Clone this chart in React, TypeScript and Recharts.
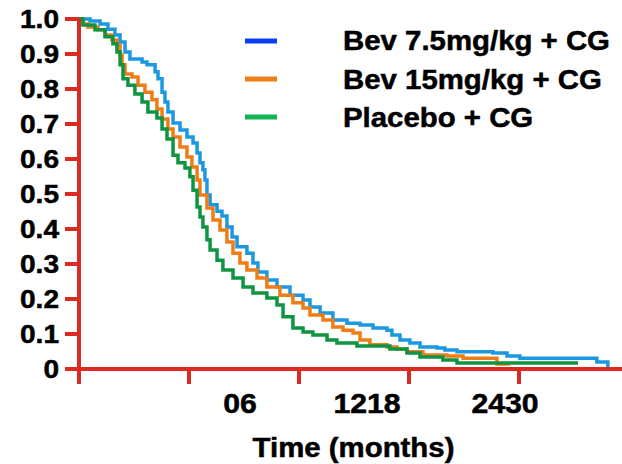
import { LineChart, Line, XAxis, YAxis, Legend, Label } from 'recharts';

// Kaplan-Meier step corners: months, proportion event-free
const bev75Time = [0, 0.6, 1.15, 1.58, 1.96, 2.24, 2.51, 2.78, 3.44, 3.71, 4.15, 4.31, 4.53, 4.69, 4.85, 5.13, 5.51, 5.89, 6.22, 6.44, 6.6, 6.76, 6.87, 6.98, 7.15, 7.53, 7.8, 8.07, 8.35, 8.62, 9.16, 9.49, 9.76, 10.25, 10.8, 11.51, 12.22, 12.6, 13.15, 13.85, 14.62, 15.33, 16.04, 16.8, 17.07, 17.51, 18.05, 18.6, 19.53, 19.96, 20.62, 22.58, 23.35, 24.05, 28.25, 28.85];
const bev75Surv = [1, 0.994, 0.986, 0.971, 0.954, 0.934, 0.906, 0.886, 0.877, 0.869, 0.849, 0.829, 0.791, 0.763, 0.734, 0.703, 0.683, 0.663, 0.646, 0.617, 0.589, 0.569, 0.54, 0.497, 0.469, 0.451, 0.437, 0.406, 0.377, 0.349, 0.331, 0.303, 0.277, 0.254, 0.234, 0.211, 0.197, 0.177, 0.16, 0.14, 0.131, 0.126, 0.117, 0.111, 0.097, 0.083, 0.074, 0.063, 0.06, 0.054, 0.049, 0.046, 0.037, 0.031, 0.02, 0];

const bev15Time = [0, 0.22, 0.49, 1.04, 1.42, 1.8, 2.07, 2.24, 2.35, 2.51, 2.89, 3.22, 3.6, 3.98, 4.25, 4.53, 4.85, 5.13, 5.51, 5.89, 6.16, 6.44, 6.6, 6.98, 7.31, 7.69, 8.07, 8.4, 8.78, 9.16, 9.71, 10.25, 10.96, 11.67, 12.22, 12.6, 13.31, 13.85, 14.4, 14.95, 15.33, 15.87, 16.8, 17.35, 17.89, 18.76, 20.07, 20.95, 22.8, 23.51];
const bev15Surv = [1, 0.986, 0.977, 0.969, 0.954, 0.94, 0.926, 0.897, 0.869, 0.843, 0.834, 0.811, 0.791, 0.769, 0.743, 0.714, 0.686, 0.663, 0.634, 0.606, 0.577, 0.54, 0.497, 0.46, 0.426, 0.397, 0.363, 0.331, 0.303, 0.283, 0.26, 0.234, 0.211, 0.189, 0.174, 0.154, 0.14, 0.12, 0.111, 0.103, 0.083, 0.069, 0.063, 0.057, 0.049, 0.04, 0.037, 0.031, 0.014, 0.014];

const placeboTime = [0, 0.22, 0.87, 1.42, 1.85, 2.07, 2.24, 2.4, 2.67, 3.05, 3.44, 3.76, 4.25, 4.53, 4.8, 5.13, 5.4, 5.78, 6.05, 6.22, 6.44, 6.6, 6.76, 6.98, 7.15, 7.53, 7.85, 8.4, 8.95, 9.49, 10.25, 10.8, 11.13, 11.67, 12.22, 12.76, 13.53, 14.07, 15.16, 16.96, 17.89, 18.6, 19.85, 20.62, 27.22];
const placeboSurv = [1, 0.983, 0.969, 0.949, 0.929, 0.906, 0.869, 0.829, 0.811, 0.786, 0.763, 0.734, 0.717, 0.686, 0.657, 0.611, 0.589, 0.574, 0.549, 0.511, 0.463, 0.434, 0.406, 0.369, 0.34, 0.311, 0.283, 0.26, 0.234, 0.217, 0.203, 0.183, 0.149, 0.117, 0.106, 0.097, 0.083, 0.074, 0.066, 0.057, 0.046, 0.034, 0.026, 0.017, 0.017];

const seriesNames = ['Bev 7.5mg/kg + CG', 'Bev 15mg/kg + CG', 'Placebo + CG'];
const lineColors = ['#1b98e0', '#ee7d18', '#0f9442'];
const legendColors = ['#0b3df2', '#ee7d18', '#14b256'];

const yTicks = [0, 0.1, 0.2, 0.3, 0.4, 0.5, 0.6, 0.7, 0.8, 0.9, 1];
const xMarks = [0, 6, 12, 18, 24];
// the original labels sit between the marks, run together
const xLabelPos = [8.78, 15.71, 23.24];
const xLabels = ['06', '1218', '2430'];

const RED = '#dc2a22';
const FONT = '"Liberation Sans", Arial, sans-serif';
// source lettering is a touch wider and heavier than Liberation Sans Bold
const WIDEN = 'scale(1.08,1)';
const textStyle = { fontFamily: FONT, fontWeight: 'bold' as const, fill: '#000', stroke: '#000', strokeWidth: 0.5 };

const toRows = (t: number[], s: number[]) => t.map((v, i) => ({ t: v, s: s[i] }));
const series = [
  toRows(bev75Time, bev75Surv),
  toRows(bev15Time, bev15Surv),
  toRows(placeboTime, placeboSurv),
];

// eslint-disable-next-line @typescript-eslint/no-explicit-any
const XTick = ({ x, y, payload }: any) => {
  const i = xLabelPos.indexOf(payload.value);
  if (i < 0) {
    return <line x1={x} x2={x} y1={y} y2={y + 15} stroke={RED} strokeWidth={4} />;
  }
  return (
    <g transform={`translate(${x},${y + 44}) ${WIDEN}`}>
      <text textAnchor="middle" fontSize={28} style={textStyle}>
        {xLabels[i]}
      </text>
    </g>
  );
};

// eslint-disable-next-line @typescript-eslint/no-explicit-any
const YTick = ({ x, y, payload }: any) => (
  <g transform={`translate(${x},${y}) ${WIDEN}`}>
    <text textAnchor="end" dy="0.36em" fontSize={26} style={textStyle}>
      {payload.value === 0 ? '0' : payload.value.toFixed(1)}
    </text>
  </g>
);

// eslint-disable-next-line @typescript-eslint/no-explicit-any
const AxisTitle = ({ viewBox }: any) => (
  <g transform={`translate(${viewBox.x + viewBox.width / 2 + 3},${viewBox.y + viewBox.height - 7}) scale(1.05,1)`}>
    <text textAnchor="middle" fontSize={28} style={textStyle}>
      Time (months)
    </text>
  </g>
);

const LegendBox = () => (
  <svg width={400} height={120}>
    {seriesNames.map((name, i) => (
      <g key={name}>
        <line x1={5} x2={37} y1={21 + i * 38} y2={21 + i * 38} stroke={legendColors[i]} strokeWidth={5} />
        <g transform={`translate(103,${30 + i * 38.5}) scale(1.05,1)`}>
          <text fontSize={28} style={textStyle}>
            {name}
          </text>
        </g>
      </g>
    ))}
  </svg>
);

export default function App() {
  return (
    <div style={{ position: 'absolute', left: 0, top: 0, background: '#fff' }}>
      <LineChart width={622} height={464} margin={{ top: 19, right: 0, left: 0, bottom: 0 }}>
        <XAxis
          type="number"
          dataKey="t"
          domain={[0, 29.62]}
          allowDataOverflow
          ticks={[...xMarks, ...xLabelPos].sort((a, b) => a - b)}
          interval={0}
          tick={<XTick />}
          tickLine={false}
          tickSize={0}
          tickMargin={0}
          axisLine={{ stroke: RED, strokeWidth: 4 }}
          height={95}
        >
          <Label content={<AxisTitle />} />
        </XAxis>
        <YAxis
          type="number"
          domain={[0, 1]}
          ticks={yTicks}
          interval={0}
          width={79}
          tickSize={14}
          tickMargin={6}
          tick={<YTick />}
          tickLine={{ stroke: RED, strokeWidth: 4 }}
          axisLine={{ stroke: RED, strokeWidth: 4 }}
        />
        <Legend
          layout="vertical"
          align="center"
          verticalAlign="middle"
          content={<LegendBox />}
          wrapperStyle={{ top: 20, left: 240, width: 400 }}
        />
        {series.map((rows, i) => (
          <Line
            key={seriesNames[i]}
            name={seriesNames[i]}
            data={rows}
            dataKey="s"
            type="stepAfter"
            stroke={lineColors[i]}
            strokeWidth={3.5}
            dot={false}
            isAnimationActive={false}
          />
        ))}
      </LineChart>
    </div>
  );
}
